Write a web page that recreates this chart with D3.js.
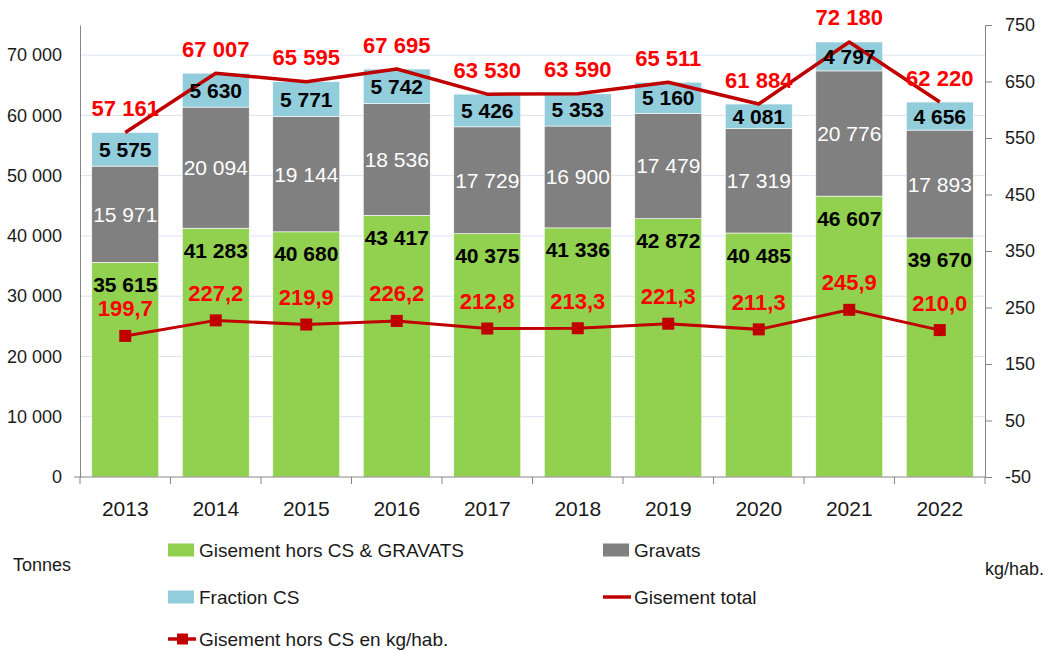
<!DOCTYPE html>
<html>
<head>
<meta charset="utf-8">
<script src="https://cdn.jsdelivr.net/npm/d3@7"></script>
<style>
  body { margin: 0; background: #fff; }
  svg { display: block; font-family: "Liberation Sans", Arial, sans-serif; }
</style>
</head>
<body>
<div id="chart"></div>
<script>
const annees = ["2013", "2014", "2015", "2016", "2017", "2018", "2019", "2020", "2021", "2022"];
const horsCS = [35615, 41283, 40680, 43417, 40375, 41336, 42872, 40485, 46607, 39670];
const gravats = [15971, 20094, 19144, 18536, 17729, 16900, 17479, 17319, 20776, 17893];
const fractionCS = [5575, 5630, 5771, 5742, 5426, 5353, 5160, 4081, 4797, 4656];
const total = [57161, 67007, 65595, 67695, 63530, 63590, 65511, 61884, 72180, 62220];
const kgHab = [199.7, 227.2, 219.9, 226.2, 212.8, 213.3, 221.3, 211.3, 245.9, 210.0];
const ticksGauche = [0, 10000, 20000, 30000, 40000, 50000, 60000, 70000];
const ticksDroite = [-50, 50, 150, 250, 350, 450, 550, 650, 750];

const width = 1055, height = 651;
const couleurs = {vert: "#92d050", gris: "#808080", bleu: "#92cddc", rouge: "#c00000", texte: "#ff0000"};

const fmt = v => d3.format(",")(v).replace(/,/g, " ");
const fmtKg = v => v.toFixed(1).replace(".", ",");

const svg = d3.select("#chart")
    .append("svg")
    .attr("width", width)
    .attr("height", height);

const x = d3.scaleBand()
    .domain(annees)
    .range([80, 985])
    .paddingInner(0.26)
    .paddingOuter(0.13);

const yg = d3.scaleLinear().domain([0, 75000]).range([477, 25]);
const yd = d3.scaleLinear().domain([-50, 750]).range([477, 25]);

// grille
svg.append("g")
    .selectAll("line")
    .data(ticksGauche.slice(1))
    .enter()
    .append("line")
    .attr("x1", 80).attr("x2", 985)
    .attr("y1", d => yg(d)).attr("y2", d => yg(d))
    .attr("stroke", "#d9e2f0")
    .attr("stroke-width", 1);

// barres empilees
const series = annees.map((a, i) => ({annee: a, vert: horsCS[i], gris: gravats[i], bleu: fractionCS[i]}));
const pile = d3.stack().keys(["vert", "gris", "bleu"])(series);

svg.append("g")
    .selectAll("g")
    .data(pile)
    .enter()
    .append("g")
    .attr("fill", d => couleurs[d.key])
    .selectAll("rect")
    .data(d => d)
    .enter()
    .append("rect")
    .attr("x", d => x(d.data.annee))
    .attr("width", x.bandwidth())
    .attr("y", d => yg(d[1]))
    .attr("height", d => yg(d[0]) - yg(d[1]))
    .attr("stroke", "#fff")
    .attr("stroke-width", 0.6);

// axes
const axeG = svg.append("g").attr("transform", "translate(80,0)")
    .call(d3.axisLeft(yg).tickValues(ticksGauche).tickFormat(fmt).tickSize(0).tickPadding(18));
axeG.select(".domain").attr("stroke", "#868686");
axeG.selectAll("text").style("font-size", "18px").attr("fill", "#1a1a1a");

const axeD = svg.append("g").attr("transform", "translate(985,0)")
    .call(d3.axisRight(yd).tickValues(ticksDroite).tickFormat(d => String(d))
        .tickSizeOuter(0).tickSize(7).tickPadding(13));
axeD.select(".domain").attr("stroke", "#868686");
axeD.selectAll(".tick line").attr("stroke", "#868686");
axeD.selectAll("text").style("font-size", "18px").attr("fill", "#1a1a1a");

svg.append("line")
    .attr("x1", 74).attr("x2", 985)
    .attr("y1", 477).attr("y2", 477)
    .attr("stroke", "#868686");

svg.append("g")
    .selectAll("line")
    .data(d3.range(annees.length + 1))
    .enter()
    .append("line")
    .attr("x1", i => 80 + i * x.step()).attr("x2", i => 80 + i * x.step())
    .attr("y1", 477).attr("y2", 484)
    .attr("stroke", "#868686");

svg.append("g")
    .selectAll("text")
    .data(annees)
    .enter()
    .append("text")
    .attr("x", d => x(d) + x.bandwidth() / 2)
    .attr("y", 516)
    .attr("text-anchor", "middle")
    .style("font-size", "21px")
    .attr("fill", "#1a1a1a")
    .text(d => d);

// lignes
const cx = (d, i) => x(annees[i]) + x.bandwidth() / 2;

svg.append("path")
    .datum(total)
    .attr("fill", "none")
    .attr("stroke", couleurs.rouge)
    .attr("stroke-width", 3.5)
    .attr("stroke-linejoin", "round")
    .attr("d", d3.line().x(cx).y(d => yg(d)));

svg.append("path")
    .datum(kgHab)
    .attr("fill", "none")
    .attr("stroke", couleurs.rouge)
    .attr("stroke-width", 3)
    .attr("d", d3.line().x(cx).y(d => yd(d)));

svg.append("g")
    .selectAll("rect")
    .data(kgHab)
    .enter()
    .append("rect")
    .attr("x", (d, i) => cx(d, i) - 6)
    .attr("y", d => yd(d) - 6)
    .attr("width", 12).attr("height", 12)
    .attr("fill", couleurs.rouge);

// etiquettes
const etiquettes = svg.append("g").attr("dominant-baseline", "central").attr("text-anchor", "middle");

etiquettes.selectAll(".lv")
    .data(horsCS)
    .enter()
    .append("text")
    .attr("x", cx)
    .attr("y", d => yg(d) + 22)
    .style("font-size", "21px").style("font-weight", "bold")
    .attr("fill", "#000")
    .text(fmt);

etiquettes.selectAll(".lg")
    .data(gravats)
    .enter()
    .append("text")
    .attr("x", cx)
    .attr("y", (d, i) => yg(horsCS[i] + d / 2))
    .style("font-size", "21px")
    .attr("fill", "#fff")
    .text(fmt);

etiquettes.selectAll(".lb")
    .data(fractionCS)
    .enter()
    .append("text")
    .attr("x", cx)
    .attr("y", (d, i) => yg(horsCS[i] + gravats[i] + d / 2))
    .style("font-size", "21px").style("font-weight", "bold")
    .attr("fill", "#000")
    .text(fmt);

etiquettes.selectAll(".lt")
    .data(total)
    .enter()
    .append("text")
    .attr("x", cx)
    .attr("y", d => yg(d) - 24)
    .style("font-size", "22px").style("font-weight", "bold")
    .attr("fill", couleurs.texte)
    .text(fmt);

etiquettes.selectAll(".lk")
    .data(kgHab)
    .enter()
    .append("text")
    .attr("x", cx)
    .attr("y", d => yd(d) - 27)
    .style("font-size", "22px").style("font-weight", "bold")
    .attr("fill", couleurs.texte)
    .text(fmtKg);

// legende
const legende = svg.append("g").style("font-size", "19px").attr("fill", "#1a1a1a");
const items = [
    {nom: "Gisement hors CS & GRAVATS", type: "carre", c: couleurs.vert, x: 199, y: 550},
    {nom: "Gravats", type: "carre", c: couleurs.gris, x: 634, y: 550},
    {nom: "Fraction CS", type: "carre", c: couleurs.bleu, x: 199, y: 597},
    {nom: "Gisement total", type: "ligne", c: couleurs.rouge, x: 634, y: 597},
    {nom: "Gisement hors CS en kg/hab.", type: "marqueur", c: couleurs.rouge, x: 199, y: 639}
];
items.forEach(it => {
    if (it.type === "carre") {
        legende.append("rect").attr("x", it.x - 31).attr("y", it.y - 6.5)
            .attr("width", 26).attr("height", 13).attr("fill", it.c);
    } else {
        legende.append("line").attr("x1", it.x - 31).attr("x2", it.x - 3)
            .attr("y1", it.y).attr("y2", it.y)
            .attr("stroke", it.c).attr("stroke-width", 3.5);
        if (it.type === "marqueur") {
            legende.append("rect").attr("x", it.x - 22).attr("y", it.y - 5.5)
                .attr("width", 11).attr("height", 11).attr("fill", it.c);
        }
    }
    legende.append("text").attr("x", it.x).attr("y", it.y)
        .attr("dominant-baseline", "central").text(it.nom);
});

svg.append("text").attr("x", 13).attr("y", 565).attr("dominant-baseline", "central")
    .style("font-size", "18px").attr("fill", "#1a1a1a").text("Tonnes");
svg.append("text").attr("x", 985).attr("y", 569).attr("dominant-baseline", "central")
    .style("font-size", "18px").attr("fill", "#1a1a1a").text("kg/hab.");
</script>
</body>
</html>
